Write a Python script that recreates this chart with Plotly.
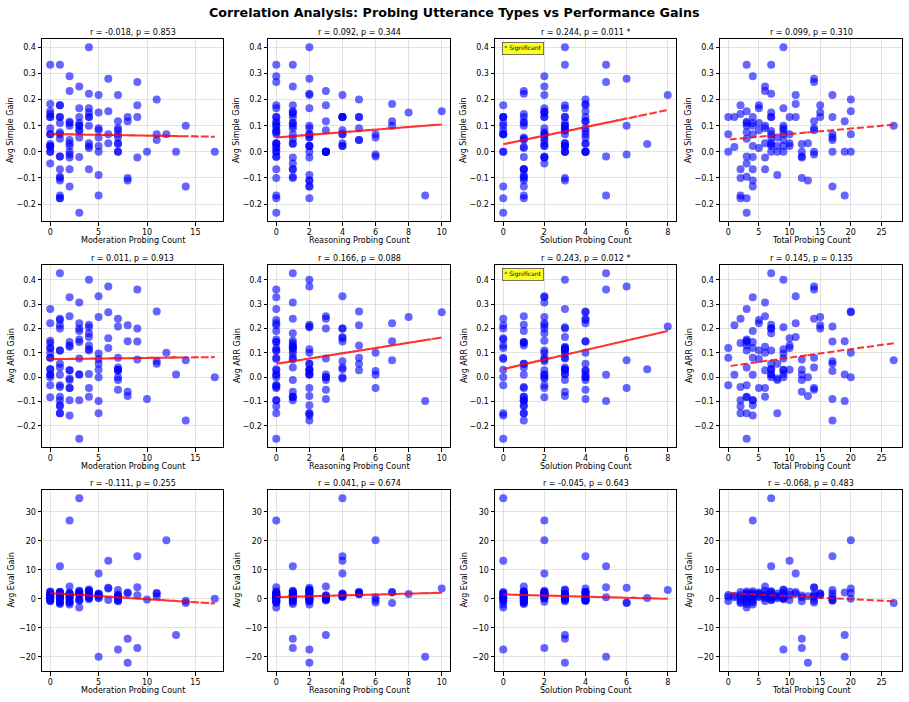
import plotly.graph_objects as go
import numpy as np

# ---------------- data ----------------
moderation = [14, 11, 6, 12, 17, 5, 13, 8, 7, 14,
              9, 11, 11, 7, 10, 9, 5, 8, 6, 9,
              7, 7, 7, 7, 2, 1, 8, 7, 8, 9,
              7, 7, 5, 0, 4, 4, 6, 6, 5, 4,
              4, 4, 5, 3, 7, 2, 4, 5, 5, 5,
              2, 2, 1, 4, 3, 4, 1, 3, 1, 3,
              4, 0, 0, 0, 3, 2, 2, 0, 2, 2,
              4, 1, 3, 1, 5, 4, 2, 0, 3, 3,
              0, 0, 3, 2, 1, 2, 0, 0, 2, 2,
              3, 1, 1, 1, 0, 1, 1, 3, 1, 0,
              1, 1, 1, 1, 1, 0, 0, 0, 0]
reasoning = [7, 5, 10, 6, 3, 9, 3, 7, 2, 2,
             4, 4, 5, 6, 3, 3, 8, 5, 2, 0,
             3, 5, 4, 3, 6, 6, 2, 4, 1, 1,
             1, 2, 4, 7, 4, 5, 4, 1, 2, 2,
             2, 2, 1, 3, 2, 5, 2, 0, 2, 2,
             4, 3, 1, 2, 4, 1, 4, 0, 2, 2,
             0, 4, 3, 0, 1, 3, 1, 2, 0, 2,
             1, 0, 0, 1, 0, 0, 0, 1, 0, 0,
             1, 2, 0, 1, 2, 2, 0, 1, 1, 0,
             0, 0, 1, 0, 1, 1, 2, 0, 1, 1,
             0, 0, 0, 0, 0, 0, 0, 0, 0]
solution = [6, 4, 4, 2, 0, 5, 3, 4, 8, 1,
            4, 2, 1, 4, 4, 3, 2, 2, 6, 5,
            4, 2, 3, 4, 6, 5, 3, 2, 3, 2,
            4, 3, 2, 4, 3, 1, 0, 3, 3, 3,
            3, 3, 3, 3, 0, 2, 3, 4, 1, 1,
            2, 3, 5, 1, 0, 2, 2, 4, 4, 2,
            3, 3, 4, 7, 2, 1, 3, 4, 4, 2,
            1, 4, 2, 3, 0, 1, 2, 3, 1, 1,
            3, 2, 1, 1, 1, 0, 3, 2, 0, 1,
            0, 2, 1, 2, 2, 1, 0, 0, 0, 1,
            1, 1, 1, 1, 0, 1, 0, 0, 0]
total = [27, 20, 20, 20, 20, 19, 19, 19, 17, 17,
         17, 17, 17, 17, 17, 15, 15, 15, 14, 14,
         14, 14, 14, 14, 14, 12, 13, 13, 12, 12,
         12, 12, 11, 11, 11, 10, 10, 10, 10, 9,
         9, 9, 9, 9, 9, 9, 9, 9, 8, 8,
         8, 8, 7, 7, 7, 7, 7, 7, 7, 7,
         7, 7, 7, 7, 6, 6, 6, 6, 6, 6,
         6, 5, 5, 5, 5, 5, 4, 4, 4, 4,
         4, 4, 4, 4, 4, 4, 3, 3, 3, 3,
         3, 3, 3, 3, 3, 3, 3, 3, 2, 2,
         2, 2, 2, 2, 1, 1, 0, 0, 0]
simple_gain = [0.100, 0.200, 0.155, 0.067, 0.000, -0.167, 0.000, 0.117, 0.217, -0.133,
               0.133, 0.067, 0.045, 0.055, 0.000, 0.178, 0.150, 0.133, 0.280, 0.267,
               0.117, 0.090, 0.083, 0.000, -0.010, -0.018, -0.110, 0.033, -0.100, -0.022,
               0.030, 0.000, 0.217, 0.183, 0.133, 0.133, 0.067, 0.033, 0.022, 0.400,
               0.167, 0.100, 0.090, 0.083, 0.067, 0.045, 0.022, 0.000, -0.089, 0.055,
               0.022, 0.000, 0.333, 0.222, 0.133, 0.150, 0.133, 0.080, 0.067, 0.055,
               0.033, 0.022, 0.000, 0.030, 0.250, 0.233, 0.100, 0.090, 0.033, -0.022,
               -0.067, 0.178, 0.167, 0.110, 0.083, 0.015, 0.289, 0.133, 0.110, 0.100,
               0.067, 0.022, -0.020, -0.067, -0.110, -0.133, 0.333, 0.155, 0.110, 0.115,
               0.100, 0.075, 0.050, -0.018, -0.045, -0.095, -0.178, -0.233, 0.178, 0.145,
               -0.067, -0.100, -0.167, -0.178, 0.133, 0.018, 0.133, 0.067, 0.000]
arr_gain = [0.070, 0.270, 0.267, 0.100, 0.000, -0.098, 0.011, 0.148, 0.208, -0.178,
            0.147, 0.065, 0.055, 0.025, -0.090, 0.200, 0.247, 0.213, 0.373, 0.360,
            0.240, 0.080, 0.040, -0.052, -0.045, 0.010, -0.077, 0.000, -0.060, 0.073,
            -0.012, 0.030, 0.333, 0.222, 0.165, 0.130, 0.160, 0.120, 0.030, 0.400,
            0.205, 0.115, 0.097, 0.077, 0.030, 0.028, 0.013, 0.000, -0.148, 0.055,
            -0.005, -0.012, 0.427, 0.215, 0.200, 0.180, 0.200, 0.011, 0.055, 0.011,
            0.110, 0.033, 0.000, 0.033, 0.307, 0.250, 0.125, 0.100, 0.028, -0.045,
            -0.080, 0.235, 0.222, 0.110, 0.075, -0.045, 0.328, 0.120, 0.190, 0.145,
            0.080, 0.010, -0.095, -0.095, -0.115, -0.158, 0.280, 0.150, 0.130, 0.145,
            0.155, 0.110, 0.040, -0.033, -0.083, -0.080, -0.148, -0.253, 0.240, 0.140,
            -0.040, -0.095, -0.120, -0.148, 0.213, 0.010, 0.120, 0.080, -0.033]
eval_gain = [-1.5, 2.0, 3.5, 20.2, 0.0, -20.0, -12.5, 2.2, 3.0, -0.7,
             14.7, 0.8, 1.8, -0.4, -0.3, 1.2, 1.6, 1.9, 3.8, 4.0,
             1.0, 1.5, 0.6, -0.6, -1.3, 0.5, -22.1, 0.9, -13.8, -17.0,
             1.1, -0.9, 8.7, 2.3, 1.7, 2.4, 13.1, -0.4, 1.3, 2.9,
             0.3, 3.2, 1.4, 0.1, -17.5, 2.1, -0.2, 0.4, 1.0, 0.2,
             1.8, 0.7, 11.2, 2.6, 34.7, 0.9, 1.5, -0.5, 2.4, 1.9,
             0.5, 1.2, -0.3, 0.3, 2.8, 4.2, 1.6, -0.8, 0.6, 0.2,
             1.1, 2.2, 1.6, 0.9, 1.8, 0.6, 27.0, 1.4, 2.6, -0.6,
             0.8, 2.0, 1.5, -1.2, 0.4, -2.0, 1.0, 2.5, -0.7, 0.9,
             2.0, -1.0, 1.7, 0.1, 0.6, -1.8, 0.3, -3.0, 2.3, -0.3,
             1.2, -1.5, 0.8, -1.1, 0.5, 1.0, 1.3, -0.8, 0.7]

x_labels = ["Moderation Probing Count", "Reasoning Probing Count",
            "Solution Probing Count", "Total Probing Count"]
y_labels = ["Avg Simple Gain", "Avg ARR Gain", "Avg Eval Gain"]
subplot_titles = [
    "r = -0.018, p = 0.853", "r = 0.092, p = 0.344", "r = 0.244, p = 0.011 *", "r = 0.099, p = 0.310",
    "r = 0.011, p = 0.913", "r = 0.166, p = 0.088", "r = 0.243, p = 0.012 *", "r = 0.145, p = 0.135",
    "r = -0.111, p = 0.255", "r = 0.041, p = 0.674", "r = -0.045, p = 0.643", "r = -0.068, p = 0.483",
]
p_values = [0.853, 0.344, 0.011, 0.310, 0.913, 0.088, 0.012, 0.135, 0.255, 0.674, 0.643, 0.483]
# trend-line coefficients (slope, intercept)
fit_slope = [-0.0006, 0.0050, 0.0164, 0.0021,
             0.0005, 0.0108, 0.0196, 0.0035,
             -0.210, 0.150, -0.190, -0.105]
fit_intercept = [0.068, 0.055, 0.029, 0.047,
                 0.074, 0.055, 0.033, 0.045,
                 1.95, 0.57, 1.50, 1.95]

x_tick_vals = [[0, 5, 10, 15], [0, 2, 4, 6, 8, 10], [0, 2, 4, 6, 8], [0, 5, 10, 15, 20, 25]]
y_tick_vals = [[-0.2, -0.1, 0.0, 0.1, 0.2, 0.3, 0.4],
               [-0.2, -0.1, 0.0, 0.1, 0.2, 0.3, 0.4],
               [-20, -10, 0, 10, 20, 30]]
y_tick_text = [["\u22120.2", "\u22120.1", "0.0", "0.1", "0.2", "0.3", "0.4"],
               ["\u22120.2", "\u22120.1", "0.0", "0.1", "0.2", "0.3", "0.4"],
               ["\u221220", "\u221210", "0", "10", "20", "30"]]

main_title = "Correlation Analysis: Probing Utterance Types vs Performance Gains"

# ---------------- layout geometry ----------------
W, H = 909, 702
col_px = [(42, 223), (268, 450), (495, 676), (720, 902)]
row_px = [(39, 221), (265, 447), (490, 671)]
FONT = "DejaVu Sans"

xdata = [moderation, reasoning, solution, total]
ydata = [simple_gain, arr_gain, eval_gain]
for arr in xdata + ydata:
    assert len(arr) == len(moderation)


def px(x):
    return x / W


def py(y):
    return 1 - y / H


def padded(vals):
    lo, hi = min(vals), max(vals)
    d = (hi - lo) * 0.05
    return [lo - d, hi + d]


fig = go.Figure()
annotations = []
layout_axes = {}

for r in range(3):
    for c in range(4):
        k = r * 4 + c
        n = k + 1
        xname = "x" if n == 1 else f"x{n}"
        yname = "y" if n == 1 else f"y{n}"
        xs = xdata[c]
        ys = ydata[r]
        fig.add_trace(go.Scatter(
            x=xs, y=ys, mode="markers",
            marker=dict(size=8, color="rgba(0,0,255,0.6)", line=dict(width=0)),
            xaxis=xname, yaxis=yname, showlegend=False, hoverinfo="skip"))
        xf = np.array(xs, dtype=float)
        yf = fit_slope[k] * xf + fit_intercept[k]
        fig.add_trace(go.Scatter(
            x=xf, y=yf, mode="lines",
            line=dict(color="rgba(255,0,0,0.8)", width=2, dash="7px,3px", simplify=False),
            xaxis=xname, yaxis=yname, showlegend=False, hoverinfo="skip"))

        x0, x1 = col_px[c]
        y0, y1 = row_px[r]
        common = dict(
            showline=True, linecolor="black", linewidth=1, mirror=True,
            ticks="outside", ticklen=3.5, tickwidth=0.8, tickcolor="black",
            showgrid=True, gridcolor="rgba(176,176,176,0.35)", gridwidth=0.8,
            zeroline=False, tickfont=dict(family=FONT, size=8, color="black"),
        )
        layout_axes["xaxis" if n == 1 else f"xaxis{n}"] = dict(
            domain=[px(x0), px(x1)], anchor=yname, range=padded(xs),
            tickmode="array", tickvals=x_tick_vals[c], **common)
        layout_axes["yaxis" if n == 1 else f"yaxis{n}"] = dict(
            domain=[py(y1), py(y0)], anchor=xname, range=padded(ys),
            tickmode="array", tickvals=y_tick_vals[r], ticktext=y_tick_text[r],
            **common)

        cx = (x0 + x1) / 2
        annotations.append(dict(
            text=subplot_titles[k], x=px(cx), y=py(y0 - 7), xref="paper", yref="paper",
            showarrow=False, xanchor="center", yanchor="middle",
            font=dict(family=FONT, size=8, color="black")))
        annotations.append(dict(
            text=x_labels[c], x=px(cx), y=py(y1 + 19), xref="paper", yref="paper",
            showarrow=False, xanchor="center", yanchor="middle",
            font=dict(family=FONT, size=8, color="black")))
        annotations.append(dict(
            text=y_labels[r], x=px(x0 - 31), y=py((y0 + y1) / 2), xref="paper", yref="paper",
            showarrow=False, xanchor="center", yanchor="middle", textangle=-90,
            font=dict(family=FONT, size=8, color="black")))
        if p_values[k] < 0.05:
            annotations.append(dict(
                text="* Significant", x=px(x0 + 7), y=py(y0 + 3), xref="paper", yref="paper",
                showarrow=False, xanchor="left", yanchor="top",
                font=dict(family=FONT, size=6, color="black"),
                bgcolor="rgba(255,255,0,0.85)", bordercolor="#555555", borderwidth=0.8,
                borderpad=1.5))

annotations.append(dict(
    text="<b>" + main_title + "</b>", x=0.5, y=py(12), xref="paper", yref="paper",
    showarrow=False, xanchor="center", yanchor="middle",
    font=dict(family=FONT, size=12.7, color="black")))

fig.update_layout(
    width=W, height=H, margin=dict(l=0, r=0, t=0, b=0),
    paper_bgcolor="white", plot_bgcolor="white",
    font=dict(family=FONT, size=8, color="black"),
    annotations=annotations, showlegend=False,
    **layout_axes)

fig.write_html("out.html")
